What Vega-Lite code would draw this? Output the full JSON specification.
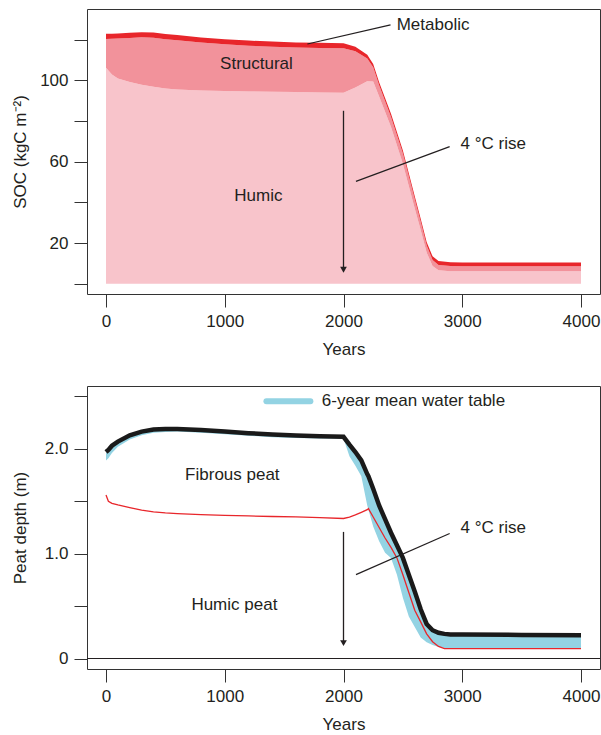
{
  "$schema": "https://vega.github.io/schema/vega-lite/v6.json",
  "padding": {"left": 10, "top": 8, "right": 0, "bottom": 0},
  "background": "white",
  "spacing": 92,
  "bounds": "flush",
  "config": {
    "font": "Liberation Sans, Arial, sans-serif",
    "view": {"stroke": "#333333", "strokeWidth": 1},
    "axis": {
      "domain": false, "grid": false, "tickColor": "#333333", "tickSize": 13, "tickWidth": 1,
      "labelFontSize": 17, "labelColor": "#231f20", "labelPadding": 6,
      "titleFontSize": 17, "titleFontWeight": "normal", "titleColor": "#231f20"
    },
    "text": {"fontSize": 17, "color": "#231f20"}
  },
  "vconcat": [
    {
      "width": 513, "height": 285,
      "encoding": {
        "x": {"field": "year", "type": "quantitative", "title": "Years",
              "scale": {"domain": [-160, 4160], "nice": false, "zero": false},
              "axis": {"values": [0, 1000, 2000, 3000, 4000], "format": "d", "titlePadding": 12}},
        "y": {"field": "v", "type": "quantitative", "title": "SOC (kgC m⁻²)",
              "scale": {"domain": [-5, 135], "nice": false, "zero": false},
              "axis": {"values": [0, 20, 40, 60, 80, 100, 120], "labelExpr": "datum.value % 40 == 20 ? datum.label : ''", "titleX": -58}}
      },
      "layer": [
        {
          "data": {"values": [
            {"year": 0, "Humic": 106.2, "Structural": 14.1, "Metabolic": 2.5},
            {"year": 50, "Humic": 102.8, "Structural": 17.6, "Metabolic": 2.5},
            {"year": 100, "Humic": 100.8, "Structural": 19.7, "Metabolic": 2.5},
            {"year": 200, "Humic": 99.2, "Structural": 21.6, "Metabolic": 2.5},
            {"year": 300, "Humic": 97.8, "Structural": 23.3, "Metabolic": 2.5},
            {"year": 400, "Humic": 96.8, "Structural": 24.1, "Metabolic": 2.5},
            {"year": 500, "Humic": 96.0, "Structural": 24.2, "Metabolic": 2.5},
            {"year": 600, "Humic": 95.5, "Structural": 24.2, "Metabolic": 2.5},
            {"year": 800, "Humic": 95.0, "Structural": 23.5, "Metabolic": 2.5},
            {"year": 1000, "Humic": 94.7, "Structural": 23.0, "Metabolic": 2.5},
            {"year": 1200, "Humic": 94.5, "Structural": 22.5, "Metabolic": 2.5},
            {"year": 1400, "Humic": 94.3, "Structural": 22.2, "Metabolic": 2.5},
            {"year": 1600, "Humic": 94.2, "Structural": 21.9, "Metabolic": 2.5},
            {"year": 1800, "Humic": 94.0, "Structural": 21.9, "Metabolic": 2.5},
            {"year": 2000, "Humic": 93.9, "Structural": 21.8, "Metabolic": 2.5},
            {"year": 2100, "Humic": 96.4, "Structural": 17.9, "Metabolic": 2.2},
            {"year": 2200, "Humic": 99.5, "Structural": 11.2, "Metabolic": 1.8},
            {"year": 2250, "Humic": 99.4, "Structural": 7.0, "Metabolic": 1.6},
            {"year": 2300, "Humic": 92.0, "Structural": 5.5, "Metabolic": 1.5},
            {"year": 2400, "Humic": 77.0, "Structural": 5.0, "Metabolic": 1.5},
            {"year": 2500, "Humic": 59.0, "Structural": 5.0, "Metabolic": 1.5},
            {"year": 2600, "Humic": 37.0, "Structural": 4.5, "Metabolic": 1.5},
            {"year": 2650, "Humic": 26.5, "Structural": 4.0, "Metabolic": 1.5},
            {"year": 2700, "Humic": 15.4, "Structural": 3.5, "Metabolic": 1.6},
            {"year": 2750, "Humic": 8.7, "Structural": 3.0, "Metabolic": 1.8},
            {"year": 2800, "Humic": 6.7, "Structural": 2.6, "Metabolic": 1.9},
            {"year": 2900, "Humic": 6.2, "Structural": 2.5, "Metabolic": 1.9},
            {"year": 3000, "Humic": 6.2, "Structural": 2.4, "Metabolic": 1.9},
            {"year": 3500, "Humic": 6.2, "Structural": 2.4, "Metabolic": 1.9},
            {"year": 4000, "Humic": 6.2, "Structural": 2.4, "Metabolic": 1.9}
          ]},
          "transform": [
            {"fold": ["Humic", "Structural", "Metabolic"], "as": ["pool", "v"]},
            {"calculate": "indexof(['Humic','Structural','Metabolic'], datum.pool)", "as": "ord"}
          ],
          "mark": {"type": "area"},
          "encoding": {
            "color": {"field": "pool", "type": "nominal", "legend": null,
                      "scale": {"domain": ["Humic", "Structural", "Metabolic"], "range": ["#f8c4cb", "#f2929b", "#e8262b"]}},
            "order": {"field": "ord", "type": "quantitative"}
          }
        },
        {
          "data": {"values": [
            {"year": 1696, "v": 117.8, "year2": 2396, "v2": 127.2},
            {"year": 2105, "v": 50.3, "year2": 2894, "v2": 67.4}
          ]},
          "mark": {"type": "rule", "color": "#231f20", "strokeWidth": 1.2},
          "encoding": {"x2": {"field": "year2"}, "y2": {"field": "v2"}}
        },
        {
          "data": {"values": [{"year": 2000, "v": 85, "v2": 8}]},
          "mark": {"type": "rule", "color": "#231f20", "strokeWidth": 1.3},
          "encoding": {"y2": {"field": "v2"}}
        },
        {
          "data": {"values": [{"year": 2000, "v": 6.9}]},
          "mark": {"type": "point", "shape": "triangle-down", "filled": true, "size": 45, "color": "#231f20", "opacity": 1}
        },
        {
          "data": {"values": [
            {"year": 1267, "v": 108.1, "label": "Structural"},
            {"year": 1283, "v": 43.1, "label": "Humic"}
          ]},
          "mark": {"type": "text", "baseline": "middle", "align": "center"},
          "encoding": {"text": {"field": "label"}}
        },
        {
          "data": {"values": [
            {"year": 2448, "v": 127.3, "label": "Metabolic"},
            {"year": 2986, "v": 68.6, "label": "4 °C rise"}
          ]},
          "mark": {"type": "text", "baseline": "middle", "align": "left"},
          "encoding": {"text": {"field": "label"}}
        }
      ]
    },
    {
      "width": 513, "height": 283,
      "encoding": {
        "x": {"field": "year", "type": "quantitative", "title": "Years",
              "scale": {"domain": [-160, 4160], "nice": false, "zero": false},
              "axis": {"values": [0, 1000, 2000, 3000, 4000], "format": "d", "titlePadding": 12}},
        "y": {"field": "v", "type": "quantitative", "title": "Peat depth (m)",
              "scale": {"domain": [-0.1, 2.6], "nice": false, "zero": false},
              "axis": {"values": [0, 0.5, 1, 1.5, 2, 2.5], "labelExpr": "datum.value == 0 ? '0' : (datum.value == 1 || datum.value == 2) ? format(datum.value, '.1f') : ''", "titleX": -58}}
      },
      "layer": [
        {
          "data": {"values": [
            {"year": 0, "peat": 1.97, "wtlo": 1.89, "wthi": 1.96, "bnd": 1.56},
            {"year": 20, "peat": 1.99, "wtlo": 1.91, "wthi": 1.98, "bnd": 1.50},
            {"year": 50, "peat": 2.03, "wtlo": 1.96, "wthi": 2.02, "bnd": 1.48},
            {"year": 100, "peat": 2.07, "wtlo": 2.02, "wthi": 2.06, "bnd": 1.465},
            {"year": 200, "peat": 2.13, "wtlo": 2.09, "wthi": 2.12, "bnd": 1.44},
            {"year": 300, "peat": 2.165, "wtlo": 2.13, "wthi": 2.155, "bnd": 1.415},
            {"year": 400, "peat": 2.185, "wtlo": 2.155, "wthi": 2.175, "bnd": 1.40},
            {"year": 500, "peat": 2.19, "wtlo": 2.16, "wthi": 2.18, "bnd": 1.39},
            {"year": 600, "peat": 2.19, "wtlo": 2.165, "wthi": 2.18, "bnd": 1.383},
            {"year": 800, "peat": 2.18, "wtlo": 2.155, "wthi": 2.17, "bnd": 1.372},
            {"year": 1000, "peat": 2.165, "wtlo": 2.14, "wthi": 2.155, "bnd": 1.365},
            {"year": 1200, "peat": 2.15, "wtlo": 2.125, "wthi": 2.14, "bnd": 1.36},
            {"year": 1400, "peat": 2.137, "wtlo": 2.112, "wthi": 2.127, "bnd": 1.355},
            {"year": 1600, "peat": 2.128, "wtlo": 2.105, "wthi": 2.118, "bnd": 1.352},
            {"year": 1800, "peat": 2.12, "wtlo": 2.10, "wthi": 2.11, "bnd": 1.345},
            {"year": 2000, "peat": 2.115, "wtlo": 2.10, "wthi": 2.105, "bnd": 1.336},
            {"year": 2050, "peat": 2.04, "wtlo": 1.93, "wthi": 2.03, "bnd": 1.35},
            {"year": 2100, "peat": 1.97, "wtlo": 1.84, "wthi": 1.96, "bnd": 1.37},
            {"year": 2150, "peat": 1.89, "wtlo": 1.74, "wthi": 1.88, "bnd": 1.395},
            {"year": 2200, "peat": 1.76, "wtlo": 1.46, "wthi": 1.75, "bnd": 1.42},
            {"year": 2210, "peat": 1.74, "wtlo": 1.42, "wthi": 1.73, "bnd": 1.43},
            {"year": 2250, "peat": 1.62, "wtlo": 1.26, "wthi": 1.61, "bnd": 1.35},
            {"year": 2300, "peat": 1.46, "wtlo": 1.12, "wthi": 1.45, "bnd": 1.25},
            {"year": 2350, "peat": 1.33, "wtlo": 1.01, "wthi": 1.32, "bnd": 1.15},
            {"year": 2400, "peat": 1.20, "wtlo": 0.96, "wthi": 1.19, "bnd": 1.06},
            {"year": 2450, "peat": 1.08, "wtlo": 0.80, "wthi": 1.07, "bnd": 0.96},
            {"year": 2500, "peat": 0.96, "wtlo": 0.58, "wthi": 0.95, "bnd": 0.80},
            {"year": 2550, "peat": 0.80, "wtlo": 0.40, "wthi": 0.79, "bnd": 0.63},
            {"year": 2600, "peat": 0.64, "wtlo": 0.30, "wthi": 0.63, "bnd": 0.46},
            {"year": 2650, "peat": 0.47, "wtlo": 0.20, "wthi": 0.46, "bnd": 0.35},
            {"year": 2700, "peat": 0.33, "wtlo": 0.155, "wthi": 0.32, "bnd": 0.235},
            {"year": 2750, "peat": 0.27, "wtlo": 0.13, "wthi": 0.26, "bnd": 0.16},
            {"year": 2800, "peat": 0.245, "wtlo": 0.11, "wthi": 0.235, "bnd": 0.115},
            {"year": 2850, "peat": 0.235, "wtlo": 0.10, "wthi": 0.225, "bnd": 0.095},
            {"year": 2900, "peat": 0.23, "wtlo": 0.10, "wthi": 0.22, "bnd": 0.095},
            {"year": 3000, "peat": 0.228, "wtlo": 0.10, "wthi": 0.218, "bnd": 0.095},
            {"year": 3500, "peat": 0.225, "wtlo": 0.10, "wthi": 0.215, "bnd": 0.095},
            {"year": 4000, "peat": 0.222, "wtlo": 0.10, "wthi": 0.212, "bnd": 0.095}
          ]},
          "layer": [
            {
              "mark": {"type": "area", "color": "#93d3e3"},
              "encoding": {
                "y": {"field": "wtlo", "type": "quantitative", "title": "Peat depth (m)",
                      "scale": {"domain": [-0.1, 2.6], "nice": false, "zero": false},
                      "axis": {"values": [0, 0.5, 1, 1.5, 2, 2.5], "labelExpr": "datum.value == 0 ? '0' : (datum.value == 1 || datum.value == 2) ? format(datum.value, '.1f') : ''", "titleX": -58}},
                "y2": {"field": "wthi"}
              }
            },
            {
              "mark": {"type": "line", "color": "#e8262b", "strokeWidth": 1.3},
              "encoding": {
                "y": {"field": "bnd", "type": "quantitative", "title": "Peat depth (m)",
                      "scale": {"domain": [-0.1, 2.6], "nice": false, "zero": false},
                      "axis": {"values": [0, 0.5, 1, 1.5, 2, 2.5], "labelExpr": "datum.value == 0 ? '0' : (datum.value == 1 || datum.value == 2) ? format(datum.value, '.1f') : ''", "titleX": -58}}
              }
            },
            {
              "mark": {"type": "line", "color": "#1a1a1a", "strokeWidth": 4.5},
              "encoding": {
                "y": {"field": "peat", "type": "quantitative", "title": "Peat depth (m)",
                      "scale": {"domain": [-0.1, 2.6], "nice": false, "zero": false},
                      "axis": {"values": [0, 0.5, 1, 1.5, 2, 2.5], "labelExpr": "datum.value == 0 ? '0' : (datum.value == 1 || datum.value == 2) ? format(datum.value, '.1f') : ''", "titleX": -58}}
              }
            }
          ]
        },
        {
          "data": {"values": [{"year": -160, "year2": 4160, "v": 0}]},
          "mark": {"type": "rule", "color": "#231f20", "strokeWidth": 1.2},
          "encoding": {"x2": {"field": "year2"}}
        },
        {
          "data": {"values": [{"year": 2105, "v": 0.80, "year2": 2894, "v2": 1.193}]},
          "mark": {"type": "rule", "color": "#231f20", "strokeWidth": 1.2},
          "encoding": {"x2": {"field": "year2"}, "y2": {"field": "v2"}}
        },
        {
          "data": {"values": [{"year": 1351, "year2": 1721, "v": 2.455}]},
          "mark": {"type": "rule", "color": "#93d3e3", "strokeWidth": 6, "strokeCap": "round"},
          "encoding": {"x2": {"field": "year2"}}
        },
        {
          "data": {"values": [{"year": 2000, "v": 1.208, "v2": 0.16}]},
          "mark": {"type": "rule", "color": "#231f20", "strokeWidth": 1.3},
          "encoding": {"y2": {"field": "v2"}}
        },
        {
          "data": {"values": [{"year": 2000, "v": 0.146}]},
          "mark": {"type": "point", "shape": "triangle-down", "filled": true, "size": 45, "color": "#231f20", "opacity": 1}
        },
        {
          "data": {"values": [
            {"year": 1064, "v": 1.749, "label": "Fibrous peat"},
            {"year": 1081, "v": 0.509, "label": "Humic peat"}
          ]},
          "mark": {"type": "text", "baseline": "middle", "align": "center"},
          "encoding": {"text": {"field": "label"}}
        },
        {
          "data": {"values": [
            {"year": 2986, "v": 1.243, "label": "4 °C rise"},
            {"year": 1817, "v": 2.455, "label": "6-year mean water table"}
          ]},
          "mark": {"type": "text", "baseline": "middle", "align": "left"},
          "encoding": {"text": {"field": "label"}}
        }
      ]
    }
  ]
}
